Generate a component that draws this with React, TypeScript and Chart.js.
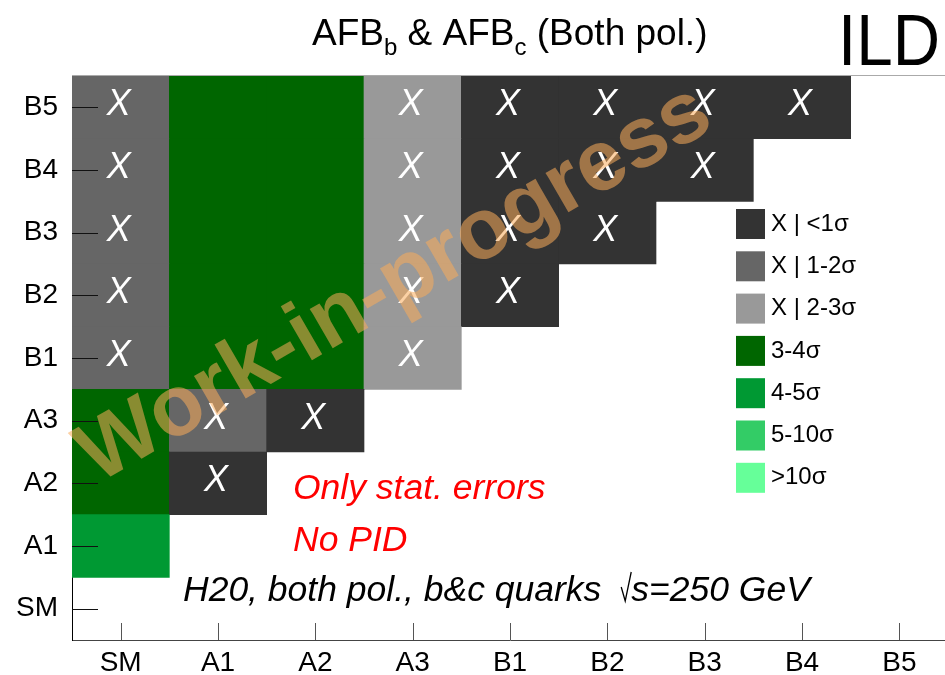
import React, { useEffect, useRef } from "react";
import { Chart, registerables } from "chart.js";

Chart.register(...registerables);

// ---- data ----
const categories = ["SM", "A1", "A2", "A3", "B1", "B2", "B3", "B4", "B5"];
const levelLabels = ["X | <1σ", "X | 1-2σ", "X | 2-3σ", "3-4σ", "4-5σ", "5-10σ", ">10σ"];
const levelColors = ["#333333", "#666666", "#999999", "#006600", "#009933", "#33cc66", "#66ff99"];
const levelMarked = [true, true, true, false, false, false, false];

// significance level index per cell; each array is one x column, listed from y=SM up to y=B5 (null = empty)
const colSM = [null, 4, 3, 3, 1, 1, 1, 1, 1];
const colA1 = [null, null, 0, 1, 3, 3, 3, 3, 3];
const colA2 = [null, null, null, 0, 3, 3, 3, 3, 3];
const colA3 = [null, null, null, null, 2, 2, 2, 2, 2];
const colB1 = [null, null, null, null, null, 0, 0, 0, 0];
const colB2 = [null, null, null, null, null, null, 0, 0, 0];
const colB3 = [null, null, null, null, null, null, null, 0, 0];
const colB4 = [null, null, null, null, null, null, null, null, 0];
const colB5 = [null, null, null, null, null, null, null, null, null];
const columns: (number | null)[][] = [colSM, colA1, colA2, colA3, colB1, colB2, colB3, colB4, colB5];

const titleParts = [
  { t: "AFB", sub: false },
  { t: "b", sub: true },
  { t: " & AFB", sub: false },
  { t: "c", sub: true },
  { t: " (Both pol.)", sub: false },
];
const noteRed1 = "Only stat. errors";
const noteRed2 = "No PID";
const noteInfo1 = "H20, both pol., b&c quarks ";
const noteInfo2 = "s";
const noteInfo3 = "=250 GeV";
const watermark = "Work-in-progress";
const experiment = "ILD";

const FONT = "'Liberation Sans', Arial, Helvetica, sans-serif";

const overlay = {
  id: "overlay",
  afterDatasetsDraw(chart: any) {
    const { ctx, chartArea, scales } = chart;
    const xs = scales.x;
    const ys = scales.y;
    ctx.save();
    // X marks
    ctx.font = `italic 36px ${FONT}`;
    ctx.fillStyle = "#ffffff";
    ctx.textAlign = "center";
    ctx.textBaseline = "middle";
    columns.forEach((col, ci) =>
      col.forEach((lv, ri) => {
        if (lv !== null && levelMarked[lv]) {
          ctx.fillText("X", xs.getPixelForValue(ci) - 2, ys.getPixelForValue(ri) - 2);
        }
      })
    );
    // top frame line
    ctx.strokeStyle = "#aaaaaa";
    ctx.lineWidth = 1;
    ctx.beginPath();
    ctx.moveTo(chartArea.left, chartArea.top - 0.5);
    ctx.lineTo(chartArea.right, chartArea.top - 0.5);
    ctx.stroke();
    // y ticks (inside)
    ctx.strokeStyle = "#111111";
    categories.forEach((_, i) => {
      const py = Math.round(ys.getPixelForValue(i)) + 0.5;
      ctx.beginPath();
      ctx.moveTo(chartArea.left, py);
      ctx.lineTo(chartArea.left + 26, py);
      ctx.stroke();
    });
    // x ticks (inside)
    ctx.strokeStyle = "#555555";
    categories.forEach((_, i) => {
      const px = Math.round(xs.getPixelForValue(i)) + 0.5;
      ctx.beginPath();
      ctx.moveTo(px, chartArea.bottom);
      ctx.lineTo(px, chartArea.bottom - 17);
      ctx.stroke();
    });
    ctx.restore();
  },
  afterDraw(chart: any) {
    const { ctx } = chart;
    ctx.save();
    // legend
    ctx.textAlign = "left";
    ctx.textBaseline = "middle";
    ctx.font = `24px ${FONT}`;
    levelLabels.forEach((lab, i) => {
      const top = 209 + i * 42.3;
      ctx.fillStyle = levelColors[i];
      ctx.fillRect(736, top, 29, 30);
      ctx.fillStyle = "#000000";
      ctx.fillText(lab, 771, top + 15);
    });
    // title
    ctx.textBaseline = "alphabetic";
    let tx = 312;
    titleParts.forEach((p) => {
      ctx.font = p.sub ? `24px ${FONT}` : `37px ${FONT}`;
      ctx.fillStyle = "#000000";
      ctx.fillText(p.t, tx, p.sub ? 55 : 45);
      tx += ctx.measureText(p.t).width;
    });
    // ILD
    ctx.save();
    ctx.font = `72px ${FONT}`;
    const w = ctx.measureText(experiment).width;
    ctx.translate(838, 65);
    ctx.scale(102 / w, 1);
    ctx.fillText(experiment, 0, 0);
    ctx.restore();
    // red notes
    ctx.fillStyle = "#ff0000";
    ctx.font = `italic 35.5px ${FONT}`;
    ctx.fillText(noteRed1, 293, 499);
    ctx.fillText(noteRed2, 293, 551);
    // info line
    ctx.fillStyle = "#000000";
    ctx.font = `italic 35.5px ${FONT}`;
    let ix = 183;
    const iy = 601;
    ctx.fillText(noteInfo1, ix, iy);
    ix += ctx.measureText(noteInfo1).width + 10;
    // sqrt sign
    ctx.strokeStyle = "#000000";
    ctx.lineWidth = 1.3;
    ctx.beginPath();
    ctx.moveTo(ix, iy - 14);
    ctx.lineTo(ix + 4, iy);
    ctx.lineTo(ix + 10, iy - 29);
    ctx.stroke();
    ix += 10;
    ctx.fillText(noteInfo2, ix, iy);
    ix += ctx.measureText(noteInfo2).width;
    ctx.fillText(noteInfo3, ix, iy);
    // watermark
    ctx.save();
    ctx.translate(395, 285);
    ctx.rotate((-30 * Math.PI) / 180);
    ctx.font = `bold 86px ${FONT}`;
    ctx.textAlign = "center";
    ctx.textBaseline = "middle";
    ctx.fillStyle = "rgba(250,172,90,0.55)";
    ctx.fillText(watermark, 0, 0);
    ctx.restore();
    ctx.restore();
  },
};

export default function App() {
  const ref = useRef<HTMLCanvasElement | null>(null);
  useEffect(() => {
    if (!ref.current) return;
    const datasets = categories.map((_, r) => ({
      label: categories[r],
      data: columns.map((col) => (col[r] === null ? null : [r - 0.5, r + 0.5])) as any,
      backgroundColor: columns.map((col) => (col[r] === null ? "rgba(0,0,0,0)" : levelColors[col[r] as number])),
      borderWidth: 0,
      grouped: false,
      barPercentage: 1,
      categoryPercentage: 1,
    }));
    const chart = new Chart(ref.current, {
      type: "bar",
      data: { labels: categories, datasets },
      options: {
        responsive: false,
        animation: false,
        devicePixelRatio: 1,
        layout: { padding: { left: 0, top: 76, right: 12, bottom: 0 } },
        plugins: { legend: { display: false }, tooltip: { enabled: false }, title: { display: false } },
        scales: {
          x: {
            type: "category",
            offset: true,
            grid: { display: false, drawTicks: false },
            border: { display: true, color: "#444444", width: 1 },
            ticks: { color: "#000000", font: { family: FONT, size: 28 }, padding: 6, maxRotation: 0, autoSkip: false },
            afterFit: (s: any) => {
              s.height = 35;
            },
          },
          y: {
            type: "linear",
            min: -0.5,
            max: 8.5,
            grid: { display: false, drawTicks: false },
            border: { display: true, color: "#000000", width: 1 },
            afterBuildTicks: (s: any) => {
              s.ticks = categories.map((_, i) => ({ value: i }));
            },
            ticks: {
              color: "#000000",
              font: { family: FONT, size: 28 },
              padding: 14,
              callback: (v: any) => categories[Math.round(Number(v))] ?? "",
            },
            afterFit: (s: any) => {
              s.width = 72;
            },
          },
        },
      },
      plugins: [overlay],
    });
    return () => chart.destroy();
  }, []);
  return (
    <div style={{ position: "fixed", left: 0, top: 0, width: 945, height: 675, overflow: "hidden", background: "#fff" }}>
      <canvas ref={ref} width={960} height={675} style={{ display: "block", width: 960, height: 675 }} />
    </div>
  );
}
